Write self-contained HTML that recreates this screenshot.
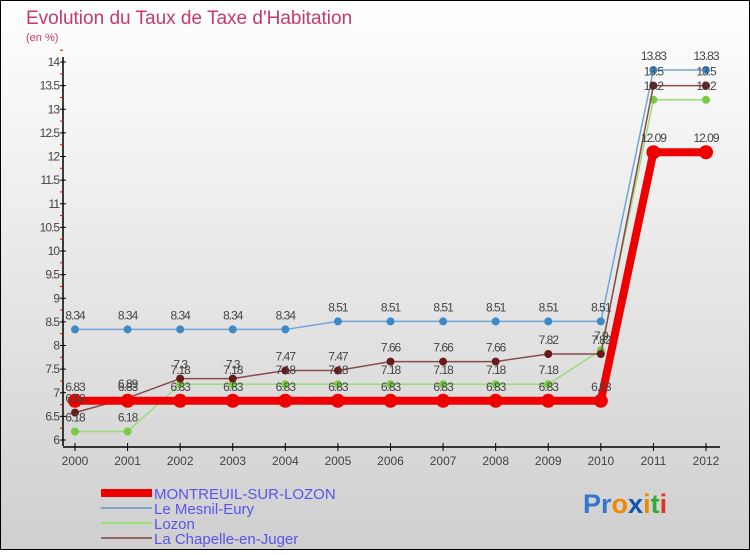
<!DOCTYPE html>
<html><head><meta charset="utf-8"><style>
body{margin:0}
#c{width:750px;height:550px;position:relative;font-family:"Liberation Sans",sans-serif}
</style></head><body>
<div id="c">
<svg id="s" width="750" height="550" xmlns="http://www.w3.org/2000/svg">
<defs><linearGradient id="bg" x1="0" y1="0" x2="0" y2="1"><stop offset="0" stop-color="#ffffff"/><stop offset="1" stop-color="#cfcfcf"/></linearGradient></defs>
<rect x="0.5" y="0.5" width="749" height="549" fill="url(#bg)" stroke="#000"/>
<text x="26" y="24" font-size="19" fill="#c8386a">Evolution du Taux de Taxe d'Habitation</text>
<text x="26" y="41" font-size="11" fill="#c8386a">(en %)</text>
<g id="axes"></g><g id="series"></g><g id="labels"></g>
<g font-size="15" fill="#5555ee">
<rect x="101" y="489" width="51" height="8" fill="#ee0000"/>
<text x="154" y="499">MONTREUIL-SUR-LOZON</text>
<rect x="101" y="507" width="51" height="2" fill="#7aa8cc"/>
<text x="154" y="514">Le Mesnil-Eury</text>
<rect x="101" y="522" width="51" height="2" fill="#99dd77"/>
<text x="154" y="529">Lozon</text>
<rect x="101" y="537" width="51" height="2" fill="#996666"/>
<text x="154" y="544">La Chapelle-en-Juger</text>
</g>
<g font-size="27" font-weight="bold">
<text x="583" y="513"><tspan fill="#3377cc">Pr</tspan><tspan fill="#ee8800">o</tspan><tspan fill="#1155aa">x</tspan><tspan fill="#ee8800">i</tspan><tspan fill="#33aa33">t</tspan><tspan fill="#dd3322">i</tspan></text>
</g>
</svg></div>
<script>
const years=[2000,2001,2002,2003,2004,2005,2006,2007,2008,2009,2010,2011,2012];
const montreuil=[6.83,6.83,6.83,6.83,6.83,6.83,6.83,6.83,6.83,6.83,6.83,12.09,12.09];
const mesnil=[8.34,8.34,8.34,8.34,8.34,8.51,8.51,8.51,8.51,8.51,8.51,13.83,13.83];
const lozon=[6.18,6.18,7.18,7.18,7.18,7.18,7.18,7.18,7.18,7.18,7.9,13.2,13.2];
const chapelle=[6.58,6.89,7.3,7.3,7.47,7.47,7.66,7.66,7.66,7.82,7.82,13.5,13.5];
const yTicks=[6,6.5,7,7.5,8,8.5,9,9.5,10,10.5,11,11.5,12,12.5,13,13.5,14];
const NS="http://www.w3.org/2000/svg";
const X=i=>75+i*(706-75)/12;
const Y=v=>440-(v-6)*(440-62)/8;
function mk(t,a,p){const e=document.createElementNS(NS,t);for(const k in a)e.setAttribute(k,a[k]);p.appendChild(e);return e;}
const ax=document.getElementById('axes'),sg=document.getElementById('series'),lg=document.getElementById('labels');
let yl=mk('line',{x1:63,y1:57,x2:63,y2:446,stroke:'#000','stroke-width':1.5},ax);


let xl=mk('line',{x1:63,y1:447,x2:720,y2:447,stroke:'#000','stroke-width':1.5},ax);


yTicks.forEach(v=>{
 mk('line',{x1:60,y1:Y(v),x2:66,y2:Y(v),stroke:'#000'},ax);
 mk('line',{x1:60,y1:Y(v+0.25),x2:63,y2:Y(v+0.25),stroke:'#e00'},ax);
 const t=mk('text',{x:59,y:Y(v)+4,'font-size':12,'text-anchor':'end',fill:'#444','letter-spacing':'-1'},ax);
 t.textContent=String(v);
 
 
});
years.forEach((y,i)=>{
 mk('line',{x1:X(i),y1:443,x2:X(i),y2:451,stroke:'#000'},ax);
 const t=mk('text',{x:X(i),y:465,'font-size':12,'text-anchor':'middle',fill:'#444'},ax);
 t.textContent=y;
 
 
});
function series(vals,color,w,fill,r,name){
 const g=mk('g',{},sg);
 
 
 mk('polyline',{points:vals.map((v,i)=>X(i)+','+Y(v)).join(' '),fill:'none',stroke:color,'stroke-width':w},g);
 vals.forEach((v,i)=>{
  const c=mk('circle',{cx:X(i),cy:Y(v),r:r,fill:fill},g);
  
  
  const t=mk('text',{x:X(i),y:Y(v)-10,'font-size':12,'text-anchor':'middle',fill:'#444','letter-spacing':'-1'},lg);
  t.textContent=String(v);
  
  
 });
}
series(mesnil,'#6fa6d6',1.5,'#3d89c6',4,'mesnil');
series(lozon,'#99dd77',1.5,'#77cc44',4,'lozon');
series(chapelle,'#8b4a4a',1.5,'#6b1a1a',4,'chapelle');
series(montreuil,'#ee0000',8,'#ee0000',7,'montreuil');
</script>
</body></html>
